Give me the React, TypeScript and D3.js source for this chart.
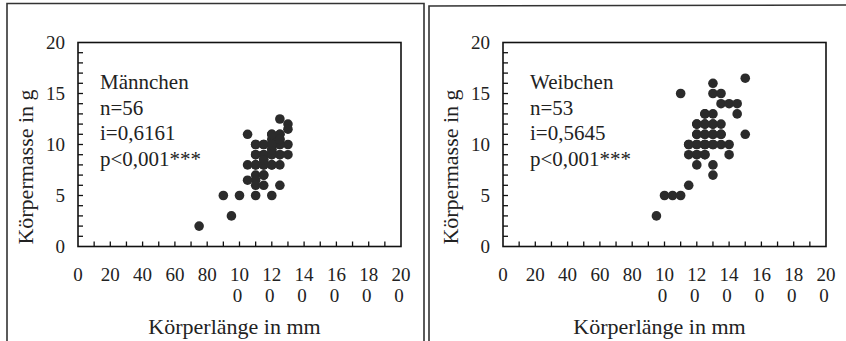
import * as d3 from 'd3';

// Körperlänge (mm) / Körpermasse (g)
const maleLength = [
  75, 90, 95, 100, 110, 120, 125,
  105, 105, 105,
  110, 110, 110, 110, 110, 110,
  115, 115, 115, 115, 115, 115,
  120, 120, 120, 120, 120, 120,
  125, 125, 125, 125, 125, 125,
  130, 130, 130, 130,
  115, 120, 120, 125, 110, 115, 120, 115, 120, 125, 110, 115, 120, 125, 115, 120, 110, 125,
];
const maleMass = [
  2, 5, 3, 5, 5, 5, 6,
  11, 8, 6.5,
  10, 9, 8, 7, 6.5, 6,
  10, 9, 8.5, 8, 7, 6,
  11, 10, 9.5, 9, 8, 10.5,
  12.5, 11, 10.5, 10, 9, 8,
  12, 11.5, 10, 9,
  9, 9, 10, 10, 8, 8, 8, 10, 11, 11, 9, 7, 9.5, 10.5, 8.5, 10, 10, 9,
];

const femaleLength = [
  95, 100, 105, 110, 115, 110,
  130, 130, 135, 135, 140, 145, 145, 150, 150,
  125, 130,
  120, 125, 130, 135,
  120, 125, 130, 135,
  115, 120, 125, 130, 135, 140,
  115, 120, 125, 140,
  120, 130, 130,
  120, 125, 125, 130, 125, 120, 125, 130, 120, 130, 125, 135, 120, 115, 125,
];
const femaleMass = [
  3, 5, 5, 5, 6, 15,
  16, 15, 15, 14, 14, 14, 13, 16.5, 11,
  13, 13,
  12, 12, 12, 12,
  11, 11, 11, 11,
  10, 10, 10, 10, 10, 10,
  9, 9, 9, 9,
  8, 8, 7,
  10, 10, 11, 11, 12, 11, 9, 10, 9, 12, 13, 11, 12, 10, 10,
];

const xTickLabels = ['0', '20', '40', '60', '80', '100', '120', '140', '160', '180', '200'];
const yTickLabels = ['0', '5', '10', '15', '20'];

const FONT = "'Liberation Serif', 'DejaVu Serif', serif";
const DOT = '#2b2b2b';

interface PanelProps {
  left: number;
  lengths: number[];
  masses: number[];
  lines: string[];
  textDx: number;
}

function Panel({ left, lengths, masses, lines, textDx }: PanelProps) {
  const plot = { left, right: left + 323, top: 42.5, bottom: 246.5 };
  const x = d3.scaleLinear().domain([0, 200]).range([plot.left, plot.right]);
  const y = d3.scaleLinear().domain([0, 20]).range([plot.bottom, plot.top]);

  const xMinor = d3.range(10, 200, 10);
  const yMinor = d3.range(1, 20, 1);

  // Excel wrapped the three-digit labels: "100" -> "10" / "0"
  const wrap = (s: string) => (s.length > 2 ? [s.slice(0, 2), s.slice(2)] : [s]);

  return (
    <g style={{ fontFamily: FONT }}>
      <rect
        x={plot.left}
        y={plot.top}
        width={plot.right - plot.left}
        height={plot.bottom - plot.top}
        fill="none"
        stroke="#111"
        strokeWidth={1.6}
      />
      {xMinor.map((v) => (
        <line key={'xt' + v} x1={x(v)} x2={x(v)} y1={plot.bottom} y2={plot.bottom - 5} stroke="#111" strokeWidth={1.3} />
      ))}
      {yMinor.map((v) => (
        <line key={'yt' + v} x1={plot.left} x2={plot.left + 5} y1={y(v)} y2={y(v)} stroke="#111" strokeWidth={1.3} />
      ))}
      {xTickLabels.map((s) => {
        const parts = wrap(s);
        return (
          <text key={'xl' + s} x={x(+s)} y={281} textAnchor="middle" fontSize={19} fill="#222">
            {parts.map((p, i) => (
              <tspan key={i} x={x(+s) - (i === 1 ? 2 : 0)} dy={i === 0 ? 0 : 21}>
                {p}
              </tspan>
            ))}
          </text>
        );
      })}
      {yTickLabels.map((s) => (
        <text key={'yl' + s} x={plot.left - 13} y={y(+s)} dy="0.35em" textAnchor="end" fontSize={19} fill="#222">
          {s}
        </text>
      ))}
      {lengths.map((v, i) => (
        <circle key={'p' + i} cx={x(v)} cy={y(masses[i])} r={4.8} fill={DOT} />
      ))}
      {lines.map((t, i) => (
        <text key={'a' + i} x={plot.left + textDx} y={89 + i * 25.7} fontSize={21} fill="#222">
          {t}
        </text>
      ))}
      <text
        transform={`translate(${plot.left - 45},167) rotate(-90)`}
        textAnchor="middle"
        fontSize={22}
        fill="#222"
      >
        Körpermasse in g
      </text>
      <text x={(plot.left + plot.right) / 2 - 5} y={334} textAnchor="middle" fontSize={22} fill="#222">
        Körperlänge in mm
      </text>
    </g>
  );
}

export default function App() {
  return (
    <svg
      width={846}
      height={341}
      viewBox="0 0 846 341"
      style={{ position: 'fixed', left: 0, top: 0, background: '#fff' }}
    >
      <rect x={0} y={0} width={846} height={341} fill="#fff" />
      {/* scanned page frames */}
      <polyline points="7,345 7,3.5 424,3.5 424,345" fill="none" stroke="#333" strokeWidth={1.6} />
      <polyline points="429,345 429,6 850,5" fill="none" stroke="#333" strokeWidth={1.6} />
      <Panel left={78} lengths={maleLength} masses={maleMass} lines={['Männchen', 'n=56', 'i=0,6161', 'p<0,001***']} textDx={22} />
      <Panel left={503} lengths={femaleLength} masses={femaleMass} lines={['Weibchen', 'n=53', 'i=0,5645', 'p<0,001***']} textDx={27} />
    </svg>
  );
}
